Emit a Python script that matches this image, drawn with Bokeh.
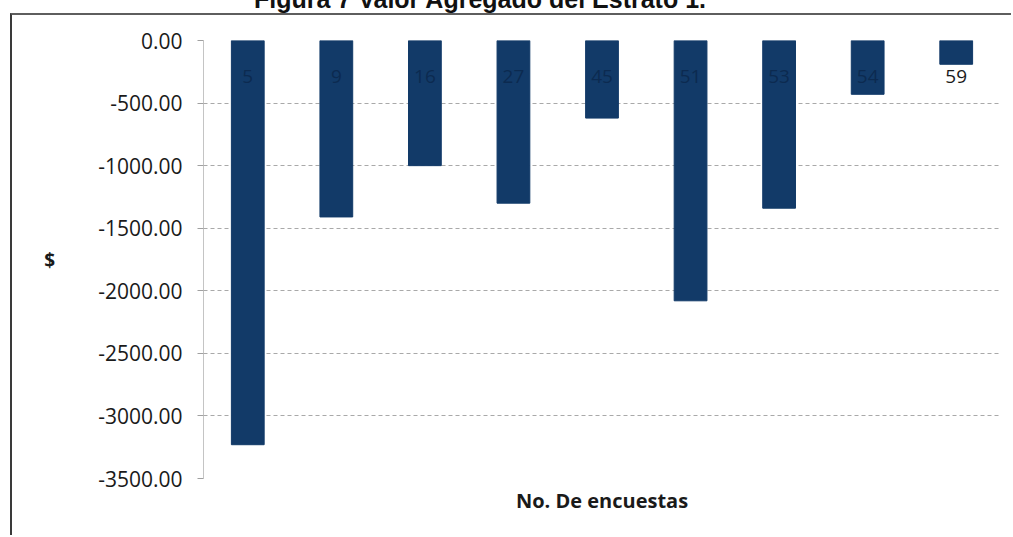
from bokeh.plotting import figure
from bokeh.layouts import column
from bokeh.models import (ColumnDataSource, NumeralTickFormatter, SingleIntervalTicker,
                          LabelSet, Range1d, Title, Div)
from bokeh.embed import file_html
from bokeh.resources import INLINE
from bokeh.core.properties import value

# ---- data ----
encuestas = ["5", "9", "16", "27", "45", "51", "53", "54", "59"]
valor_agregado = [-3230.0, -1410.0, -1000.0, -1300.0, -620.0, -2080.0, -1340.0, -430.0, -190.0]
title_text = "Figura 7 Valor Agregado del Estrato 1."
x_title = "No. De encuestas"
y_title = "$"

BAR = "#123a68"
LABEL_Y = -285.0
label_colors = ["#0c2a50" if v < LABEL_Y - 60 else "#1a1a1a" for v in valor_agregado]

src = ColumnDataSource(dict(x=encuestas, top=[0.0] * len(encuestas), bottom=valor_agregado,
                            lbl=encuestas, ly=[LABEL_Y] * len(encuestas), lc=label_colors))

# figure sits inside a bordered box: page offset (12, 15)
p = figure(x_range=encuestas, y_range=Range1d(-3500, 0), width=1001, height=522,
           output_backend="svg", toolbar_location=None,
           min_border_left=191, min_border_right=13, min_border_top=25, min_border_bottom=59)
p.background_fill_color = "white"
p.border_fill_color = "white"
p.outline_line_color = None
p.styles = {"margin-left": "10px", "border-left": "2px solid #3a3a3a",
            "border-top": "2px solid #5e5e5e"}

p.vbar(x="x", top="top", bottom="bottom", width=0.37, source=src,
       fill_color=BAR, line_color=BAR)

p.add_layout(LabelSet(x="x", y="ly", text="lbl", source=src, text_align="center",
                      text_baseline="middle", text_color="lc", text_font=value("Open Sans"),
                      text_font_size="19px"))

# y axis
p.yaxis.ticker = SingleIntervalTicker(interval=500)
p.yaxis.formatter = NumeralTickFormatter(format="0.00")
p.yaxis.major_label_text_font = "Open Sans"
p.yaxis.major_label_text_font_size = "21px"
p.yaxis.major_label_text_color = "#1a1a1a"
p.yaxis.axis_line_color = "#c4c4c4"
p.yaxis.major_tick_line_color = "#a0a0a0"
p.yaxis.major_tick_out = 6
p.yaxis.major_tick_in = 0
p.yaxis.minor_tick_line_color = None
p.yaxis.major_label_standoff = 15
p.yaxis.axis_label = y_title
p.yaxis.axis_label_orientation = "horizontal"
p.yaxis.axis_label_text_font = "Open Sans"
p.yaxis.axis_label_text_font_style = "bold"
p.yaxis.axis_label_text_font_size = "19px"
p.yaxis.axis_label_text_color = "#1a1a1a"
p.yaxis.axis_label_standoff = 40

# x axis: only its title is shown
p.xaxis.visible = False
p.add_layout(Title(text=x_title, align="center", text_font="Open Sans",
                   text_font_style="bold", text_font_size="20px", text_color="#1a1a1a",
                   standoff=13), "below")

# grid
p.xgrid.grid_line_color = None
p.ygrid.grid_line_color = "#a9a9a9"
p.ygrid.grid_line_dash = "4 3"
p.ygrid.grid_line_width = 1

# document caption above the chart box (cut off at the top of the scan)
caption = Div(
    text=('<div style="position:relative; top:-13px; width:960px; text-align:center; '
          'font-family:\'Liberation Sans\'; font-weight:bold; font-size:25px; '
          'line-height:25px; color:#111; white-space:nowrap">' + title_text + '</div>'),
    width=1013, height=13, styles={"overflow": "hidden", "margin": "0", "padding": "0"})

layout = column(caption, p, spacing=0)

open("out.html", "w").write(file_html(layout, INLINE))
